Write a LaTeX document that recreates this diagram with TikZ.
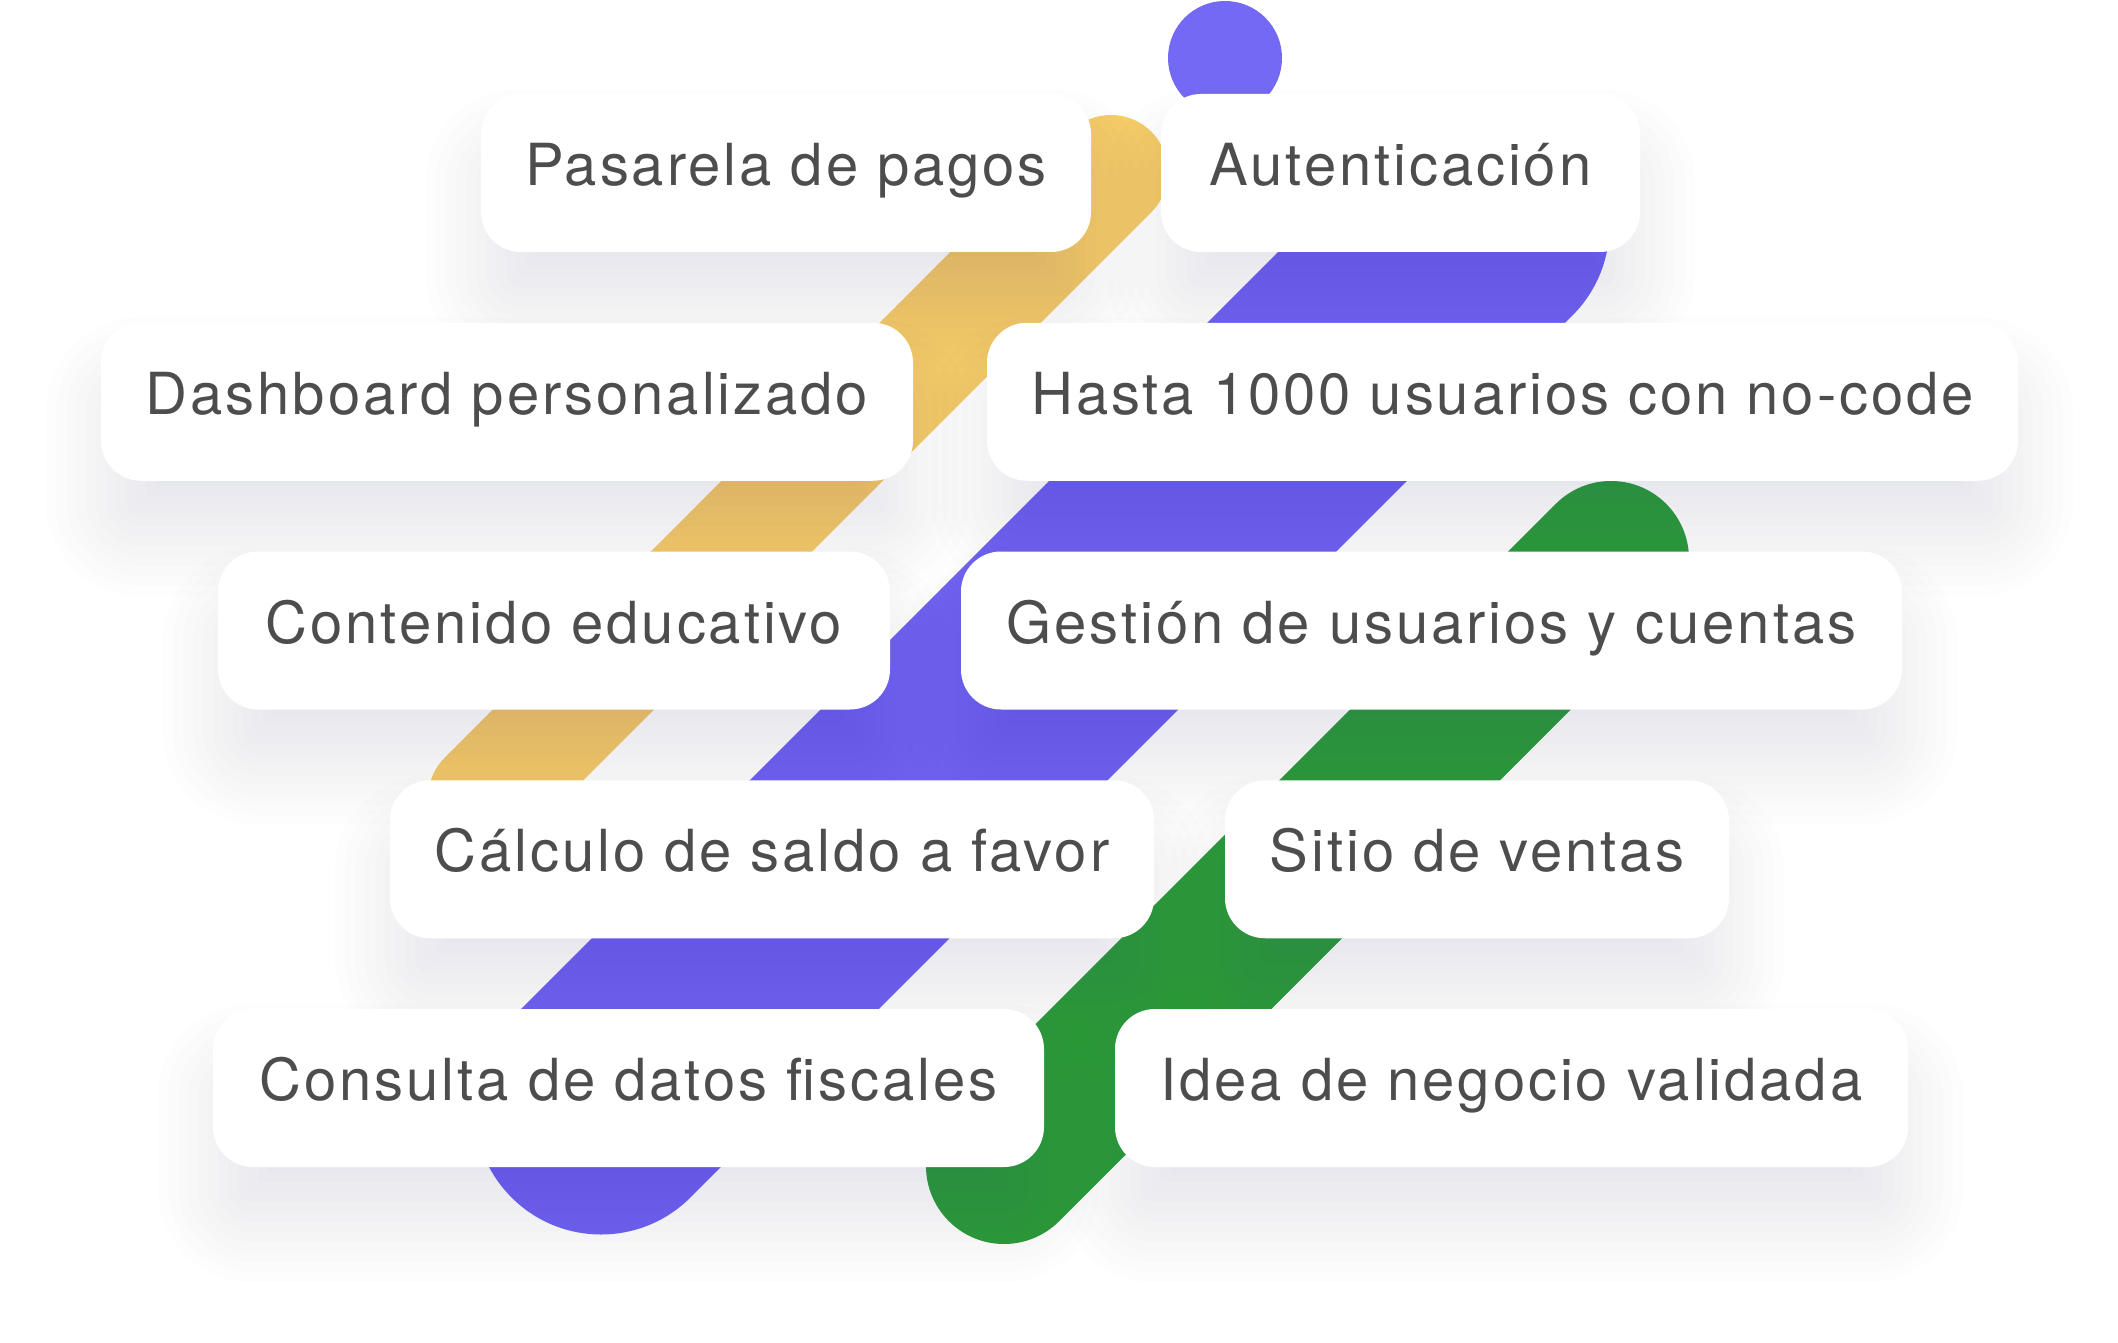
\documentclass[tikz,border=0pt]{standalone}
\usepackage{fontspec}
\setmainfont{TeX Gyre Heros}[LetterSpace=5]
\usetikzlibrary{calc}
\definecolor{txt}{HTML}{4D4D4D}
\definecolor{ylw}{HTML}{F5CC66}
\definecolor{prp}{HTML}{6F63EF}
\definecolor{prpdot}{HTML}{7469F5}
\definecolor{grn}{HTML}{2A9A34}
\definecolor{shadowc}{RGB}{95,85,160}
\pgfdeclarelayer{bandlayer}
\pgfdeclarelayer{shadowlayer}
\pgfsetlayers{bandlayer,shadowlayer,main}
\begin{document}
\begin{tikzpicture}[x=1pt,y=-1pt,
  card/.style={fill=white, rounded corners=40pt, minimum height=158pt,
    text height=42pt, text depth=17pt, inner sep=0pt, text=txt,
    font=\fontsize{58}{62}\selectfont},
  band/.style={line cap=round}]
\useasboundingbox (0,0) rectangle (2118,1343);

% cards
\node[card, minimum width=610pt]  (pas) at (786,173)      {Pasarela de pagos};
\node[card, minimum width=479pt]  (aut) at (1400.5,173)   {Autenticación};
\node[card, minimum width=812pt]  (das) at (507,401.75)   {Dashboard personalizado};
\node[card, minimum width=1031pt] (has) at (1502.5,401.75){Hasta 1000 usuarios con no-code};
\node[card, minimum width=672pt]  (con) at (554,630.5)    {Contenido educativo};
\node[card, minimum width=941pt]  (ges) at (1431.5,630.5) {Gestión de usuarios y cuentas};
\node[card, minimum width=764pt]  (cal) at (772,859.25)   {Cálculo de saldo a favor};
\node[card, minimum width=504pt]  (sit) at (1477,859.25)  {Sitio de ventas};
\node[card, minimum width=831pt]  (cnd) at (628.5,1088)   {Consulta de datos fiscales};
\node[card, minimum width=793pt]  (ide) at (1511.5,1088)  {Idea de negocio validada};

% soft shadows
\begin{pgfonlayer}{shadowlayer}
\foreach \n in {pas,aut,das,has,con,ges,cal,sit,cnd,ide}{
  \foreach \s in {-55,-45,...,55}{
    \pgfmathsetmacro\xa{0-(\s)}
    \pgfmathsetmacro\ya{(\s)-50}
    \pgfmathsetmacro\xb{\s}
    \pgfmathsetmacro\yb{-60-(\s)}
    \pgfmathsetmacro\rr{max(40+(\s),4)}
    \fill[shadowc, opacity=0.012, rounded corners=\rr pt]
      ([xshift=\xa pt, yshift=\ya pt]\n.north west) rectangle
      ([xshift=\xb pt, yshift=\yb pt]\n.south east);
  }
}
\end{pgfonlayer}

% bands
\begin{pgfonlayer}{bandlayer}
\fill[white] (0,0) rectangle (2118,1343);
\fill[prpdot] (1225,58) circle (57pt);
\draw[band, ylw, line width=114pt] (1111,172) -- (485,798);
\draw[band, prp, line width=253pt] (1483,226) -- (601,1108);
\draw[band, grn, line width=156pt] (1611,559) -- (1004,1166);
\end{pgfonlayer}
\end{tikzpicture}
\end{document}
